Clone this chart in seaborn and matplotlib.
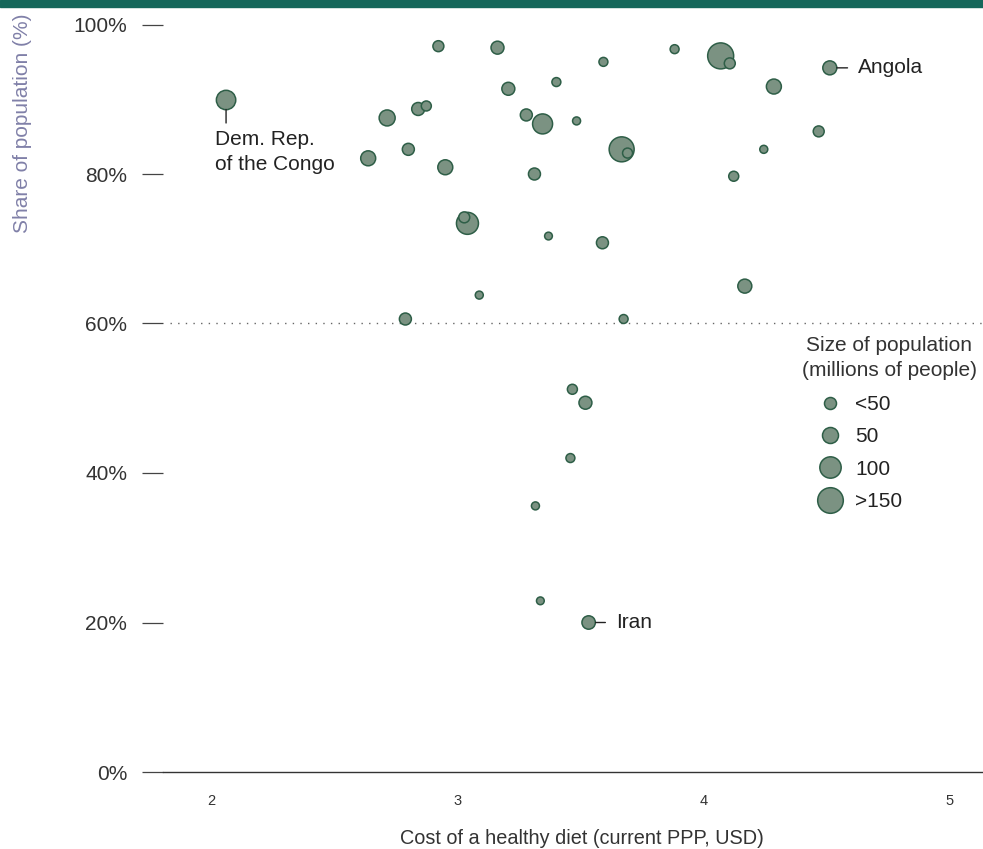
import numpy as np
import pandas as pd
import matplotlib
matplotlib.use("Agg")
import matplotlib.pyplot as plt
from matplotlib.lines import Line2D
from matplotlib.patches import Rectangle
import seaborn as sns

# ---- data ----
cost = [2.061, 2.923, 3.163, 3.882, 4.069, 4.106, 3.593, 4.512, 3.402, 3.207,
        4.285, 2.841, 2.874, 2.715, 3.280, 3.346, 3.484, 4.467, 2.638, 2.801,
        3.667, 3.691, 4.244, 2.951, 3.313, 4.122, 3.028, 3.041, 3.370, 3.589,
        4.167, 3.089, 2.789, 3.675, 3.467, 3.520, 3.459, 3.317, 3.337, 3.533]
share = [89.9, 97.1, 96.9, 96.7, 95.8, 94.8, 95.0, 94.2, 92.3, 91.4,
         91.7, 88.7, 89.1, 87.5, 87.9, 86.7, 87.1, 85.7, 82.1, 83.3,
         83.3, 82.8, 83.3, 80.9, 80.0, 79.7, 74.2, 73.4, 71.7, 70.8,
         65.0, 63.8, 60.6, 60.6, 51.2, 49.4, 42.0, 35.6, 22.9, 20.0]
population = [80, 16, 28, 6, 155, 16, 6, 35, 6, 28,
              42, 28, 11, 50, 22, 86, 2, 16, 42, 22,
              142, 11, 2, 42, 22, 11, 16, 107, 1, 22,
              35, 2, 22, 6, 11, 28, 6, 2, 1, 31]
labels = {"Dem. Rep.\nof the Congo": 0, "Angola": 7, "Iran": 39}
legend_values = [22, 50, 100, 150]
legend_labels = ["<50", "50", "100", ">150"]
yticks = [0, 20, 40, 60, 80, 100]
ytick_labels = ["0%", "20%", "40%", "60%", "80%", "100%"]
xticks = [2, 3, 4, 5]
threshold = 60

FILL = "#7b9282"
EDGE = "#2e5e47"
SIZES = (29.0, 443.7)
SIZE_NORM = (0, 200)

def size_of(p):
    return SIZES[0] + (p - SIZE_NORM[0]) / (SIZE_NORM[1] - SIZE_NORM[0]) * (SIZES[1] - SIZES[0])

df = pd.DataFrame({"cost": cost, "share": share, "pop": population})
df = df.sort_values("pop", ascending=False)

sns.set_theme(style="white")
plt.rcParams["font.family"] = ["Liberation Sans", "DejaVu Sans"]

W, H = 983, 849
fig = plt.figure(figsize=(W / 100, H / 100), dpi=100)
ax_left, ax_right, ax_top, ax_bot = 163, 983, 24.5, 772
ax = fig.add_axes([ax_left / W, (H - ax_bot) / H, (ax_right - ax_left) / W, (ax_bot - ax_top) / H])

fig.patches.append(Rectangle((0, (H - 7) / H), 1, 7 / H, transform=fig.transFigure,
                             color="#15675a", zorder=10))

sns.scatterplot(data=df, x="cost", y="share", size="pop", sizes=SIZES, size_norm=SIZE_NORM,
                color=FILL, edgecolor=EDGE, linewidth=1.1, alpha=1, legend=False,
                ax=ax, clip_on=False, zorder=3)

ax.set_xlim(1.805, 5.134)
ax.set_ylim(0, 100)

ax.axhline(threshold, xmin=0.008, xmax=1, color="#666666", lw=1.0, ls=(0, (1, 4.5)), zorder=1)

for s in ["top", "right", "left"]:
    ax.spines[s].set_visible(False)
ax.spines["bottom"].set_color("#333333")
ax.spines["bottom"].set_linewidth(1.0)

ax.set_yticks(yticks)
ax.set_yticklabels(ytick_labels)
ax.set_xticks(xticks)
ax.set_xticklabels([str(t) for t in xticks])
ax.tick_params(axis="y", direction="out", length=15.1, width=0.9, color="#444444",
               pad=10.8, labelsize=15, labelcolor="#333333", left=True)
ax.tick_params(axis="x", length=0, pad=16.0, labelsize=10.5, labelcolor="#333333")

ax.set_xlabel("Cost of a healthy diet (current PPP, USD)", fontsize=14.3, color="#333333")
ax.xaxis.set_label_coords((582 - ax_left) / (ax_right - ax_left), (ax_bot - 838) / (ax_bot - ax_top))
ax.xaxis.label.set_verticalalignment("center")
ax.set_ylabel("Share of population (%)", fontsize=15, color="#8080a8")
ax.yaxis.set_label_coords((23 - ax_left) / (ax_right - ax_left), (ax_bot - 123) / (ax_bot - ax_top))
ax.yaxis.label.set_verticalalignment("center")

# annotations
px = 0.72  # points per pixel
i = labels["Angola"]
ax.annotate("Angola", xy=(cost[i], share[i]), xytext=(28 * px, 0), textcoords="offset points",
            ha="left", va="center", fontsize=15, color="#222222",
            arrowprops=dict(arrowstyle="-", color="#222222", lw=1.0, shrinkA=7 * px, shrinkB=7 * px,
                            relpos=(0, 0.5)))
i = labels["Iran"]
ax.annotate("Iran", xy=(cost[i], share[i]), xytext=(27 * px, 0), textcoords="offset points",
            ha="left", va="center", fontsize=15, color="#222222",
            arrowprops=dict(arrowstyle="-", color="#222222", lw=1.0, shrinkA=7 * px, shrinkB=7 * px,
                            relpos=(0, 0.5)))
i = labels["Dem. Rep.\nof the Congo"]
ax.annotate("", xy=(cost[i], share[i]), xytext=(0, -23 * px), textcoords="offset points",
            arrowprops=dict(arrowstyle="-", color="#222222", lw=1.0, shrinkA=0, shrinkB=9.5 * px))
ax.annotate("Dem. Rep.\nof the Congo", xy=(cost[i], share[i]), xytext=(-11 * px, -30 * px),
            textcoords="offset points", ha="left", va="top", fontsize=15, color="#222222",
            linespacing=1.37)

# legend
handles = [Line2D([], [], marker="o", ls="", markersize=np.sqrt(size_of(v)),
                  markerfacecolor=FILL, markeredgecolor=EDGE, markeredgewidth=1.1)
           for v in legend_values]
fs_px = 15 / 0.72
leg = ax.legend(handles, legend_labels, loc="upper left", frameon=False, fontsize=15,
                bbox_to_anchor=(817.5 / W, (H - 395) / H), bbox_transform=fig.transFigure,
                borderpad=0, borderaxespad=0, handlelength=25 / fs_px, handletextpad=12.5 / fs_px,
                labelspacing=0.64)
for t in leg.get_texts():
    t.set_color("#222222")
fig.text(889 / W, (H - 358) / H, "Size of population\n(millions of people)", ha="center", va="center",
         fontsize=15, color="#333333", linespacing=1.37)

fig.savefig("out.png", dpi=100)
